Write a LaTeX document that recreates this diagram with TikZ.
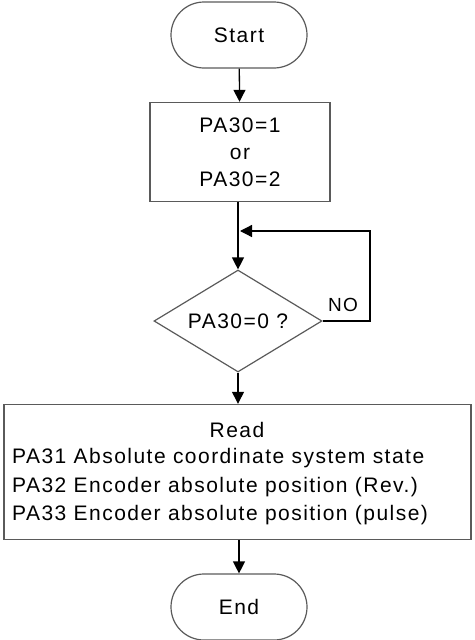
\documentclass[tikz,border=0pt]{standalone}
\usepackage{fontspec}
\setmainfont{Liberation Sans}[LetterSpace=7]
\definecolor{edgegray}{RGB}{90, 90, 90}
\usetikzlibrary{shapes.geometric, arrows.meta, positioning}

\begin{document}
\begin{tikzpicture}[x=1pt, y=-1pt,
  terminal/.style={draw=edgegray, line width=1.2pt, rounded corners=33pt, minimum width=136pt, minimum height=66pt, font=\fontsize{21}{24}\selectfont},
  procbox/.style={draw=edgegray, line width=1.4pt, font=\fontsize{21}{27}\selectfont, inner sep=0pt},
  decision/.style={draw=edgegray, line width=1.2pt, diamond, aspect=1.65, minimum width=168pt, minimum height=102pt, inner sep=0pt, font=\fontsize{21}{24}\selectfont},
  flow/.style={draw=black, line width=1.3pt, -{Triangle[length=12pt, width=12pt]}}]
  \useasboundingbox (0,0) rectangle (474,640);

  \node[terminal] (start) at (239,35) {Start};
  \node[procbox, minimum width=180pt, minimum height=99pt, align=center] (mode) at (240,152) {PA30=1\\or\\PA30=2};
  \node[decision] (check) at (238,321) {PA30=0 ?};
  \node[procbox, minimum width=467pt, minimum height=135pt] (read) at (237.5,472) {};
  \node[terminal] (stop) at (239,607) {End};

  % text of the read box
  \node[font=\fontsize{21}{24}\selectfont] (readhead) at (237,430) {Read};
  \node[font=\fontsize{21}{28.5}\selectfont, align=left, anchor=west, inner sep=0pt] (readlist) at (12,487)
    {PA31 Absolute coordinate system state\\PA32 Encoder absolute position (Rev.)\\PA33 Encoder absolute position (pulse)};

  \coordinate (back) at (240,231);
  \coordinate (turn) at (370,321);

  \draw[flow] (start) -- (mode);
  \draw[flow] (mode.south -| check.north) -- (check.north);
  \draw[flow] (check.east) -- (turn) |- (back);
  \node[font=\fontsize{19}{22}\selectfont] (no) at (343,305) {NO};
  \draw[flow] (check.south) -- (read.north -| check.south);
  \draw[flow] (read.south -| stop.north) -- (stop.north);
\end{tikzpicture}
\end{document}
